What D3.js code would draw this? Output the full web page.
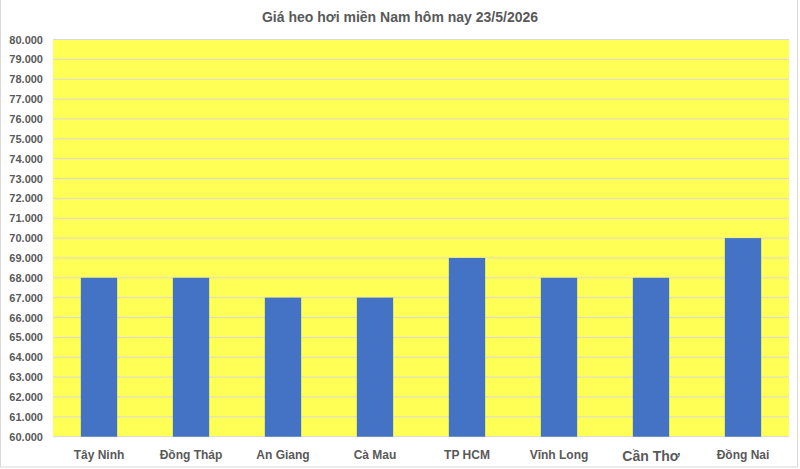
<!DOCTYPE html>
<html><head><meta charset="utf-8">
<script src="https://cdn.jsdelivr.net/npm/d3@7"></script>
<style>
html,body{margin:0;padding:0;background:#fff;}
svg text{font-family:"Liberation Sans",Arial,sans-serif;font-weight:bold;fill:#595959;}
</style></head>
<body>
<svg id="c" width="800" height="469"></svg>
<script>
const title = "Giá heo hơi miền Nam hôm nay 23/5/2026";
const categories = ["Tây Ninh","Đồng Tháp","An Giang","Cà Mau","TP HCM","Vĩnh Long","Cần Thơ","Đồng Nai"];
const values = [68000,68000,67000,67000,69000,68000,68000,70000];
const yTicks = d3.range(60000, 80001, 1000);
const yDomain = [60000, 80000];

const svg = d3.select("#c");
const W = 800, H = 469;
const m = {left:53, right:11, top:39.5, bottom:32.3};
const iw = W - m.left - m.right, ih = H - m.top - m.bottom;

svg.append("rect").attr("x",0.5).attr("y",-1).attr("width",797).attr("height",468)
  .attr("fill","#fff").attr("stroke","#d9d9d9");

const g = svg.append("g").attr("transform",`translate(${m.left},${m.top})`);
const x = d3.scaleBand().domain(categories).range([0,iw]).paddingInner(0.605).paddingOuter(0.3025);
const y = d3.scaleLinear().domain(yDomain).range([ih,0]);

g.append("rect").attr("width",iw).attr("height",ih).attr("fill","#FFFF55");

g.selectAll("line.grid").data(yTicks).join("line").attr("class","grid")
  .attr("x1",0).attr("x2",iw).attr("y1",d=>y(d)).attr("y2",d=>y(d))
  .attr("stroke","#d9d9d9").attr("stroke-width",1);

g.selectAll("rect.bar").data(values).join("rect").attr("class","bar")
  .attr("x",(d,i)=>x(categories[i])).attr("width",x.bandwidth())
  .attr("y",d=>y(d)).attr("height",d=>ih-y(d)).attr("fill","#4472C4");

const fmt = v => d3.format(",")(v).replace(/,/g,".");
const yAxis = d3.axisLeft(y).tickValues(yTicks).tickFormat(fmt).tickSize(0).tickPadding(10);
const ya = g.append("g").call(yAxis);
ya.select(".domain").remove();
ya.selectAll("text").attr("font-size",11).style("font-family","Liberation Sans, Arial, sans-serif").style("font-weight","bold").attr("fill","#595959");

const xAxis = d3.axisBottom(x).tickSize(0).tickPadding(14);
const xa = g.append("g").attr("transform",`translate(0,${ih})`).call(xAxis);
xa.select(".domain").remove();
xa.selectAll("text").attr("font-size",d=>d==="Cần Thơ"?14:12).attr("dy","0.71em")
  .style("font-family","Liberation Sans, Arial, sans-serif").style("font-weight","bold").attr("fill","#595959");

svg.append("text").attr("x",400).attr("y",22).attr("text-anchor","middle")
  .attr("font-size",14).text(title);
</script>
</body></html>
